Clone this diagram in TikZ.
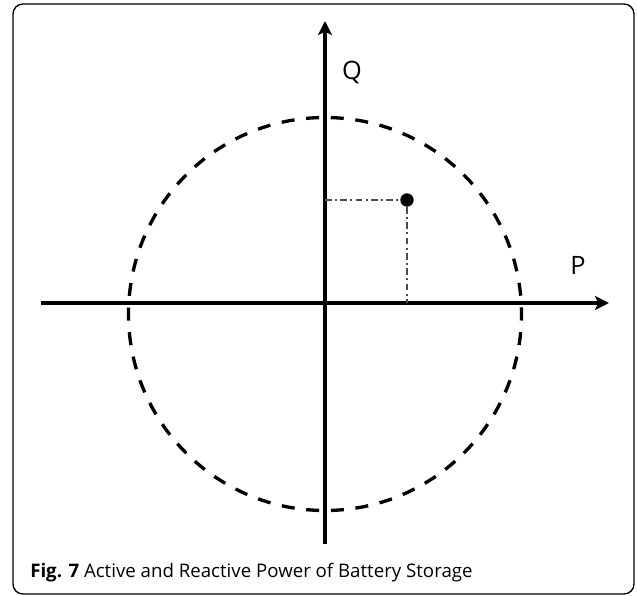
\documentclass[tikz,border=0pt]{standalone}
\usepackage{fontspec}
\setmainfont{Open Sans}
\usetikzlibrary{arrows.meta,positioning}
\tikzset{
  >={Stealth[length=10.5pt, width=10.5pt, inset=2.5pt]},
  axis/.style={line width=2.6pt, ->},
  limit/.style={line width=2.5pt, dash pattern=on 9.75pt off 8.77pt, dash phase=4.87pt},
  guide/.style={line width=1.6pt, gray!60!black, dash pattern=on 5pt off 2.5pt on 1.5pt off 2.5pt},
  axlabel/.style={font=\fontsize{19}{19}\selectfont, inner sep=0pt},
  frame/.style={draw, line width=1pt, rounded corners=7.5pt},
  capt/.style={font=\fontsize{14}{16}\selectfont, anchor=base west, inner sep=0pt},
  op/.style={circle, fill, minimum size=10pt, inner sep=0pt},
}

\begin{document}
\begin{tikzpicture}[x=0.75pt, y=-0.75pt]
  \useasboundingbox (0,0) rectangle (637,596);
  \draw[frame] (13,4) rectangle (634,594);
  % axes
  \coordinate (o) at (325,303);
  \coordinate (pmin) at (41,303);
  \coordinate (pmax) at (609,303);
  \coordinate (qmin) at (325,544);
  \coordinate (qmax) at (325,21);
  \draw[axis] (pmin) -- (pmax);
  \draw[axis] (qmin) -- (qmax);
  \node[axlabel] (plbl) at (578,265) {P};
  \node[axlabel] (qlbl) at (352,72) {Q};
  % capability circle
  \coordinate (c) at (325,314);
  \draw[limit] (c) circle[radius=196.5];
  % operating point
  \node[op] (pt) at (407,200) {};
  \coordinate (pq) at (o |- pt);
  \coordinate (pp) at (pt |- o);
  \draw[guide] (pq) -- (pt);
  \draw[guide] (pt) -- (pp);
  % caption
  \node[capt] (cap) at (30,577) {\textbf{Fig. 7} Active and Reactive Power of Battery Storage};
\end{tikzpicture}
\end{document}
